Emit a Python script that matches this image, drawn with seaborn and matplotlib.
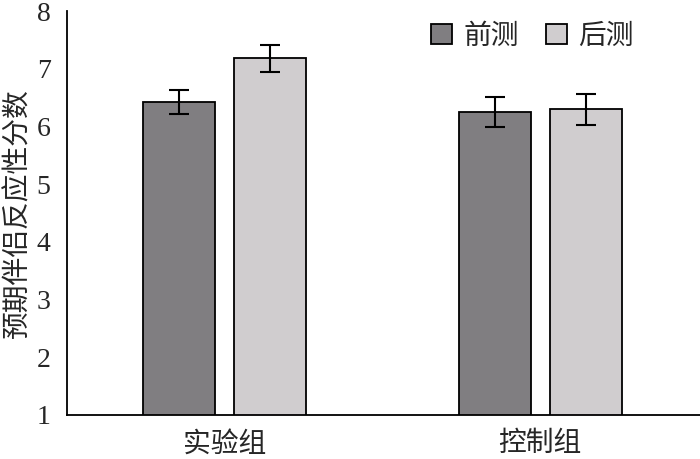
import pandas as pd
import seaborn as sns
import matplotlib.pyplot as plt

# data
groups = ['实验组', '实验组', '控制组', '控制组']
phases = ['前测', '后测', '前测', '后测']
scores = [6.42, 7.18, 6.25, 6.30]
errors = [0.21, 0.23, 0.26, 0.27]
group_order = ['实验组', '控制组']
phase_order = ['前测', '后测']
colors = ['#807d82', '#d0cccf']

df = pd.DataFrame({'group': groups, 'phase': phases, 'score': scores, 'err': errors})

sns.set_style('white')
plt.rcParams['font.family'] = ['Liberation Serif', 'Noto Sans CJK SC', 'DejaVu Sans']
plt.rcParams['axes.unicode_minus'] = False

fig = plt.figure(figsize=(7, 4.59), dpi=100)
ax = fig.add_axes([0.096, 0.096, 0.904, 0.88])

sns.barplot(data=df, x='group', y='score', hue='phase', order=group_order,
            hue_order=phase_order, palette=colors, errorbar=None,
            width=0.576, gap=0.21, edgecolor='black', linewidth=1.3, ax=ax)

# error bars at the bar centres
bar_containers = list(ax.containers)
for ph, cont in zip(phase_order, bar_containers):
    for bar, g in zip(cont, group_order):
        row = df[(df.group == g) & (df.phase == ph)].iloc[0]
        xc = bar.get_x() + bar.get_width() / 2
        ax.errorbar(xc, row.score, yerr=row.err, fmt='none', ecolor='black',
                    elinewidth=1.5, capsize=7, capthick=1.5)

ax.set_ylim(1, 8)
ax.set_xlim(-0.497, 1.506)
ax.set_yticks(range(1, 9))
ax.set_xlabel('')
ax.set_ylabel('预期伴侣反应性分数', fontsize=20, labelpad=4)
ax.tick_params(axis='y', direction='in', length=7, width=1.2, labelsize=20, pad=12)
ax.tick_params(axis='x', length=0, labelsize=20, pad=12)
for s in ['top', 'right']:
    ax.spines[s].set_visible(False)
for s in ['left', 'bottom']:
    ax.spines[s].set_linewidth(1.3)
    ax.spines[s].set_color('black')

leg = ax.legend(loc='upper right', bbox_to_anchor=(0.935, 1.03), ncol=2, frameon=False,
                fontsize=20, handlelength=0.75, handleheight=0.75, handletextpad=0.4,
                columnspacing=1.0)

plt.savefig('out.png', dpi=100)
plt.close()
